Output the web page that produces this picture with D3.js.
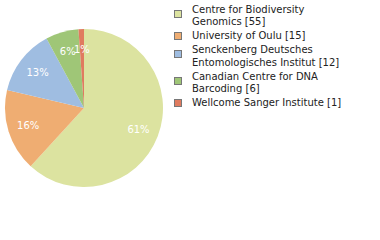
<!DOCTYPE html>
<html>
<head>
<meta charset="utf-8">
<script src="https://cdn.jsdelivr.net/npm/d3@7"></script>
<style>
  body { margin: 0; background: #fff; }
  text { font-family: "DejaVu Sans", sans-serif; }
</style>
</head>
<body>
<svg width="380" height="240"></svg>
<script>
// Data
const institutions = [
    ["Centre for Biodiversity", "Genomics [55]"],
    ["University of Oulu [15]"],
    ["Senckenberg Deutsches", "Entomologisches Institut [12]"],
    ["Canadian Centre for DNA", "Barcoding [6]"],
    ["Wellcome Sanger Institute [1]"]
]
const counts = [55, 15, 12, 6, 1]
const colors = ["#dce3a0", "#efad72", "#9fbde1", "#9fc677", "#e07b5f"]

var svg = d3.select("svg")
var cx = 84, cy = 108, radius = 79
var total = d3.sum(counts)

// Pie
var pie = d3.pie().sort(null).value((d) => d)
var arc = d3.arc().innerRadius(0).outerRadius(radius)
var labelArc = d3.arc().innerRadius(radius * 0.74).outerRadius(radius * 0.74)

var g = svg.append("g").attr("transform", "translate(" + [cx, cy] + ")")
var arcs = pie(counts)

g.selectAll("path")
    .data(arcs)
    .enter()
    .append("path")
    .attr("d", arc)
    .attr("fill", (d, i) => colors[i])

g.selectAll("text")
    .data(arcs)
    .enter()
    .append("text")
    .attr("transform", (d) => "translate(" + labelArc.centroid(d) + ")")
    .attr("text-anchor", "middle")
    .attr("dy", "0.35em")
    .attr("fill", "#fff")
    .attr("font-size", 10)
    .text((d) => Math.floor(d.data / total * 100) + "%")

// Legend
var lineH = 12.5
var legend = svg.append("g")
var y = 9
institutions.forEach((lines, i) => {
    var block = legend.append("g")
    lines.forEach((t, j) => {
        block.append("text")
            .attr("x", 192)
            .attr("y", y + j * lineH)
            .attr("dy", "0.35em")
            .attr("font-size", 10)
            .attr("fill", "#222")
            .text(t)
    })
    var mid = y + (lines.length - 1) * lineH / 2
    block.append("rect")
        .attr("x", 174.5)
        .attr("y", Math.round(mid - 4 - (lines.length > 1 ? 1.5 : 0)) + 0.5)
        .attr("width", 7)
        .attr("height", 7)
        .attr("fill", colors[i])
        .attr("stroke", "#777")
    y += lines.length * lineH + 1.5
})
</script>
</body>
</html>
